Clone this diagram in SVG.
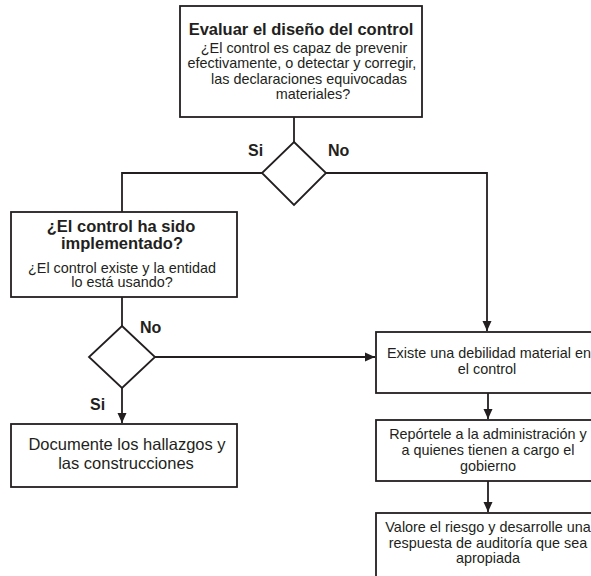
<svg xmlns="http://www.w3.org/2000/svg" width="591" height="576" viewBox="0 0 591 576">
<defs>
<style>
.box{fill:#fff;stroke:#231f20;stroke-width:1.8}
.ln{fill:none;stroke:#231f20;stroke-width:1.8}
text{font-family:"Liberation Sans",Arial,sans-serif;fill:#231f20;text-anchor:middle}
.t{font-weight:bold;font-size:16.5px}
.b{font-size:14.4px}
.lb{font-weight:bold;font-size:16px;text-anchor:start}
</style>
<marker id="ah" markerWidth="10" markerHeight="10" viewBox="0 0 10 10" refX="10" refY="5" orient="auto" markerUnits="userSpaceOnUse">
<path d="M0,0.5 L10,5 L0,9.5 Z" fill="#231f20"/>
</marker>
</defs>
<rect width="591" height="576" fill="#fff"/>
<g id="connectors">
<path class="ln" d="M294,117 V142"/>
<path class="ln" d="M262,173 H122 V212"/>
<path class="ln" d="M326,173 H487 V331" marker-end="url(#ah)"/>
<path class="ln" d="M122,297 V326"/>
<path class="ln" d="M122,388 V423" marker-end="url(#ah)"/>
<path class="ln" d="M155,357 H375" marker-end="url(#ah)"/>
<path class="ln" d="M488,393 V419" marker-end="url(#ah)"/>
<path class="ln" d="M488,481 V512" marker-end="url(#ah)"/>
<text class="lb" x="248" y="156">Si</text>
<text class="lb" x="328" y="156">No</text>
<text class="lb" x="140" y="333">No</text>
<text class="lb" x="90" y="410">Si</text>
</g>
<g id="n1">
<rect class="box" x="180" y="6" width="242" height="111"/>
<text class="t" x="301" y="35">Evaluar el diseño del control</text>
<text class="b" x="304" y="52.5">¿El control es capaz de prevenir</text>
<text class="b" x="302" y="68">efectivamente, o detectar y corregir,</text>
<text class="b" x="309" y="83.5">las declaraciones equivocadas</text>
<text class="b" x="313" y="99">materiales?</text>
</g>
<g id="d1">
<path class="box" d="M294,142 L326,173 L294,205 L262,173 Z"/>
</g>
<g id="n2">
<rect class="box" x="11" y="212" width="226" height="85"/>
<text class="t" x="121" y="232">¿El control ha sido</text>
<text class="t" x="122" y="249">implementado?</text>
<text class="b" x="122" y="272.5">¿El control existe y la entidad</text>
<text class="b" x="122" y="287">lo está usando?</text>
</g>
<g id="d2">
<path class="box" d="M122,326 L155,357 L122,388 L89,357 Z"/>
</g>
<g id="n3">
<rect class="box" x="11" y="424" width="226" height="63"/>
<text class="t" style="font-weight:normal" x="127" y="450">Documente los hallazgos y</text>
<text class="t" style="font-weight:normal" x="126" y="469">las construcciones</text>
</g>
<g id="n4">
<rect class="box" x="376" y="332" width="230" height="61"/>
<text class="b" x="489" y="357.5">Existe una debilidad material en</text>
<text class="b" x="487" y="373.5">el control</text>
</g>
<g id="n5">
<rect class="box" x="376" y="420" width="230" height="61"/>
<text class="b" x="488" y="439">Repórtele a la administración y</text>
<text class="b" x="488" y="455">a quienes tienen a cargo el</text>
<text class="b" x="488" y="471">gobierno</text>
</g>
<g id="n6">
<rect class="box" x="376" y="513" width="230" height="80"/>
<text class="b" x="488" y="532">Valore el riesgo y desarrolle una</text>
<text class="b" x="488" y="547.5">respuesta de auditoría que sea</text>
<text class="b" x="488" y="563">apropiada</text>
</g>
</svg>
